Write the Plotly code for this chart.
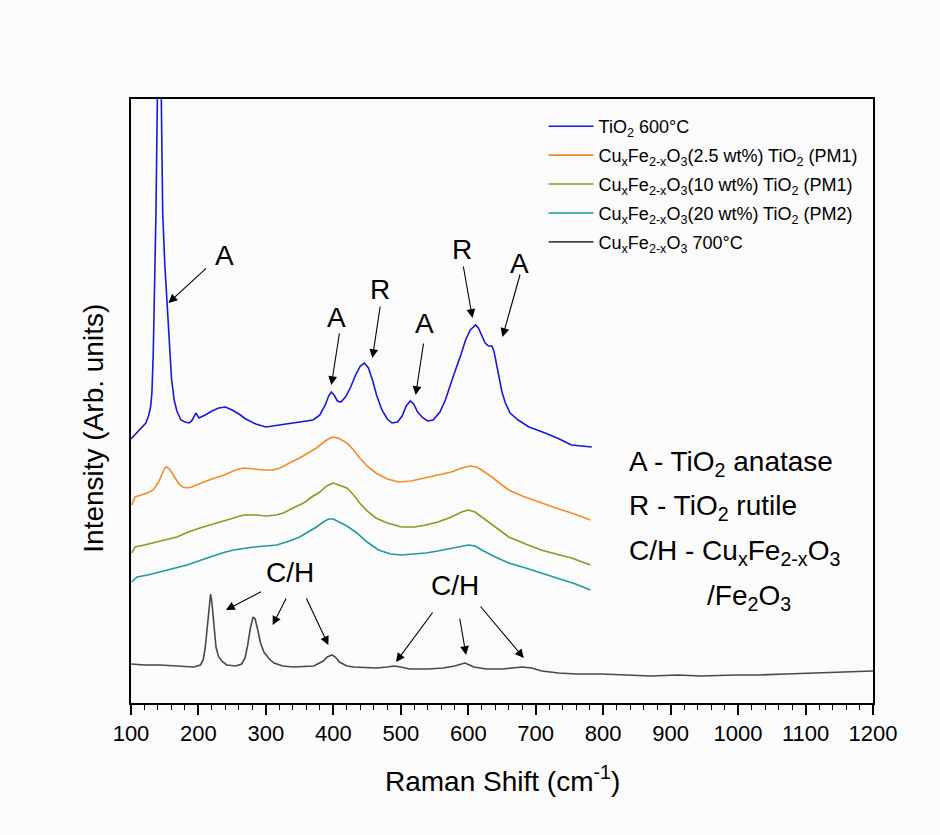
import plotly.graph_objects as go

# Raman spectra, stacked with vertical offsets (arbitrary intensity units)
tio2_600_x = [100, 108, 116, 122, 126, 129, 131, 133, 135, 137, 139, 142, 145, 147, 150, 153.5, 157, 160,
              164, 168, 174, 180, 186, 190, 194, 196, 198, 201, 210, 220, 230, 240, 250, 260, 270, 285,
              300, 310, 330, 350, 370, 380, 388, 393, 397, 401, 406, 411, 418, 425, 433, 440, 446, 452,
              458, 464, 472, 480, 487, 495, 502, 508, 514, 519, 525, 533, 540, 548, 558, 566, 573, 581,
              589, 596, 603, 611, 615, 620, 625, 630, 635, 638, 641, 645, 650, 655, 662, 674, 690, 714,
              735, 753, 768, 783]
tio2_600_y = [264, 270, 275, 280, 287, 296, 310, 350, 420, 490, 600, 1500, 600, 490, 440, 403, 360, 325,
              303, 292, 283, 281, 280, 282, 287, 290, 288, 285, 288, 292, 295, 296, 293, 289, 284, 279,
              276, 277, 279, 281, 283, 288, 298, 307, 311, 308, 302, 301, 306, 315, 328, 337, 340, 335,
              323, 308, 293, 284, 280, 281, 287, 297, 302, 299, 291, 285, 282, 283, 291, 303, 318, 333,
              348, 363, 373, 378, 375, 367, 360, 357, 357, 352, 341, 327, 311, 300, 290, 283, 276, 270,
              264, 258, 257, 256]

pm1_25_x = [101, 106, 115, 124, 133, 141, 146, 150, 153, 157, 161, 166, 171, 177, 183, 190, 200, 208,
            220, 238, 255, 267, 282, 297, 310, 321, 335, 350, 365, 375, 388, 395, 400, 407, 415, 420,
            430, 439, 450, 463, 480, 497, 515, 537, 555, 575, 590, 603, 612, 620, 635, 648, 660, 680,
            708, 730, 753, 781]
pm1_25_y = [198, 206, 208, 210, 213, 221, 229, 235, 236, 234, 230, 224, 219, 216, 215, 216, 219, 221,
            224, 228, 233, 235, 234, 233, 233, 235, 240, 245, 251, 255, 262, 265, 266, 265, 262, 260,
            253, 245, 237, 230, 224, 221, 222, 225, 228, 231, 235, 237, 236, 233, 226, 219, 213, 207,
            200, 195, 190, 183]

pm1_10_x = [101, 106, 120, 134, 150, 168, 185, 202, 217, 232, 250, 267, 285, 301, 315, 326, 340, 356,
            370, 380, 390, 396, 400, 408, 415, 420, 430, 439, 450, 463, 480, 501, 520, 537, 555, 575,
            590, 600, 610, 620, 640, 660, 685, 708, 730, 753, 781]
pm1_10_y = [150, 156, 158, 160, 163, 166, 171, 175, 178, 181, 185, 188, 188, 187, 188, 190, 195, 200,
            207, 211, 217, 219, 220, 218, 216, 215, 208, 200, 192, 185, 180, 176, 176, 178, 181, 186,
            191, 193, 191, 186, 176, 166, 159, 153, 149, 145, 138]

pm2_20_x = [101, 105, 109, 125, 143, 160, 183, 200, 217, 235, 252, 270, 282, 300, 316, 335, 350, 365,
            375, 385, 393, 400, 409, 420, 435, 450, 467, 485, 501, 520, 537, 555, 575, 590, 600, 610,
            620, 640, 660, 685, 708, 735, 759, 781]
pm2_20_y = [121, 124, 126, 128, 131, 134, 138, 142, 146, 150, 153, 155, 156, 157, 158, 162, 166, 172,
            176, 181, 184, 184, 181, 177, 170, 161, 153, 149, 148, 149, 150, 152, 155, 157, 158, 157,
            153, 146, 140, 135, 130, 124, 119, 113]

cufe_700_x = [100, 120, 143, 170, 193, 203, 207, 210, 213, 216, 218, 220, 223, 226, 230, 236, 242, 255,
              264, 269, 273, 277, 281, 284, 288, 292, 297, 305, 312, 325, 341, 371, 385, 391, 398, 403,
              409, 420, 430, 464, 480, 490, 500, 513, 540, 563, 580, 588, 595, 602, 608, 627, 650, 665,
              680, 694, 709, 734, 760, 797, 830, 871, 910, 945, 996, 1030, 1070, 1110, 1144, 1175, 1200]
cufe_700_y = [39, 38, 38, 37, 36, 38, 43, 55, 75, 100, 109, 100, 75, 56, 46, 41, 38, 37,
              39, 45, 58, 75, 86, 84, 73, 60, 51, 44, 40, 37, 36, 37, 42, 46, 48, 46,
              41, 37, 36, 35, 36, 37, 36, 34, 34, 35, 37, 39, 40, 38, 36, 34, 34, 35,
              36, 35, 32, 30, 29, 29, 28, 27, 28, 27, 28, 28, 29, 30, 31, 32, 32]

series = [
    ("TiO<sub>2</sub> 600°C", tio2_600_x, tio2_600_y, "#1818d8"),
    ("Cu<sub>x</sub>Fe<sub>2-x</sub>O<sub>3</sub>(2.5 wt%) TiO<sub>2</sub> (PM1)", pm1_25_x, pm1_25_y, "#f28c28"),
    ("Cu<sub>x</sub>Fe<sub>2-x</sub>O<sub>3</sub>(10 wt%) TiO<sub>2</sub> (PM1)", pm1_10_x, pm1_10_y, "#8c9a1e"),
    ("Cu<sub>x</sub>Fe<sub>2-x</sub>O<sub>3</sub>(20 wt%) TiO<sub>2</sub> (PM2)", pm2_20_x, pm2_20_y, "#1f9a9e"),
    ("Cu<sub>x</sub>Fe<sub>2-x</sub>O<sub>3</sub> 700°C", cufe_700_x, cufe_700_y, "#484848"),
]

# Peak labels: (text, x, y) and arrows: (tail_x, tail_y, head_x, head_y)
peak_labels = [("A", 239, 448), ("A", 405, 386), ("R", 469, 414), ("A", 535, 380),
               ("R", 590, 454), ("A", 676, 440), ("C/H", 335, 131), ("C/H", 580, 118)]
peak_arrows = [(213.5, 436, 155.6, 400), (409.3, 371, 397, 318), (469.7, 398, 457.9, 345),
               (534, 361, 522, 308), (592.3, 438, 606.2, 385), (677.4, 430, 650.7, 366),
               (295, 112, 240.7, 93), (331, 106, 310, 78), (359, 106, 392.6, 58),
               (548.8, 92, 492.9, 41), (587, 86, 596.7, 48), (616.3, 98, 682.3, 45)]

key_lines = [("A - TiO<sub>2</sub> anatase", 836, 240),
             ("R - TiO<sub>2</sub> rutile", 836, 196),
             ("C/H - Cu<sub>x</sub>Fe<sub>2-x</sub>O<sub>3</sub>", 836, 151),
             ("/Fe<sub>2</sub>O<sub>3</sub>", 951, 106)]

FONT = "Liberation Sans, Arial, sans-serif"

fig = go.Figure()
for i, (name, xs, ys, color) in enumerate(series):
    fig.add_trace(go.Scatter(x=xs, y=ys, mode="lines", name=name, legendgroup=f"g{i}",
                             line=dict(color=color, width=1.6)))

annotations = []
for text, x, y in peak_labels:
    annotations.append(dict(x=x, y=y, xref="x", yref="y", text=text, showarrow=False,
                            font=dict(family=FONT, size=28, color="black")))
for tx, ty, hx, hy in peak_arrows:
    annotations.append(dict(x=hx, y=hy, ax=tx, ay=ty, xref="x", yref="y", axref="x", ayref="y",
                            text="", showarrow=True, arrowhead=2, arrowsize=1.6, arrowwidth=1.1,
                            arrowcolor="black", standoff=0, startstandoff=0))
for text, x, y in key_lines:
    annotations.append(dict(x=x, y=y, xref="x", yref="y", text=text, showarrow=False,
                            xanchor="left", font=dict(family=FONT, size=28, color="black")))

annotations.append(dict(x=-0.0505, y=0.455, xref="paper", yref="paper", text="Intensity (Arb. units)",
                        textangle=-90, showarrow=False, xanchor="center", yanchor="middle",
                        font=dict(family=FONT, size=28, color="black")))
annotations.append(dict(x=0.5, y=-0.126, xref="paper", yref="paper", text="Raman Shift (cm<sup>-1</sup>)",
                        showarrow=False, xanchor="center", yanchor="middle",
                        font=dict(family=FONT, size=28, color="black")))

fig.update_layout(
    width=940, height=835,
    margin=dict(l=131, r=67, t=99, b=132),
    paper_bgcolor="#fbfbfb", plot_bgcolor="#fbfbfb",
    font=dict(family=FONT, color="black"),
    annotations=annotations,
    showlegend=True,
    legend=dict(x=0.556, y=0.985, xanchor="left", yanchor="top", bgcolor="rgba(0,0,0,0)",
                font=dict(family=FONT, size=18, color="black"), itemwidth=45,
                tracegroupgap=2.5),
)
fig.update_xaxes(range=[100, 1200], dtick=100, tick0=100, ticks="outside", ticklen=10, tickwidth=1.6,
                 tickcolor="black", showline=True, linewidth=2, linecolor="black", mirror=True,
                 showgrid=False, zeroline=False, tickfont=dict(family=FONT, size=22, color="black"),
                 minor=dict(dtick=20, tick0=100, ticks="outside", ticklen=5, tickwidth=1.4, tickcolor="black",
                            showgrid=False))
fig.update_yaxes(range=[0, 604], showticklabels=False, ticks="", showline=True, linewidth=2,
                 linecolor="black", mirror=True, showgrid=False, zeroline=False)

fig.write_html("out.html")
